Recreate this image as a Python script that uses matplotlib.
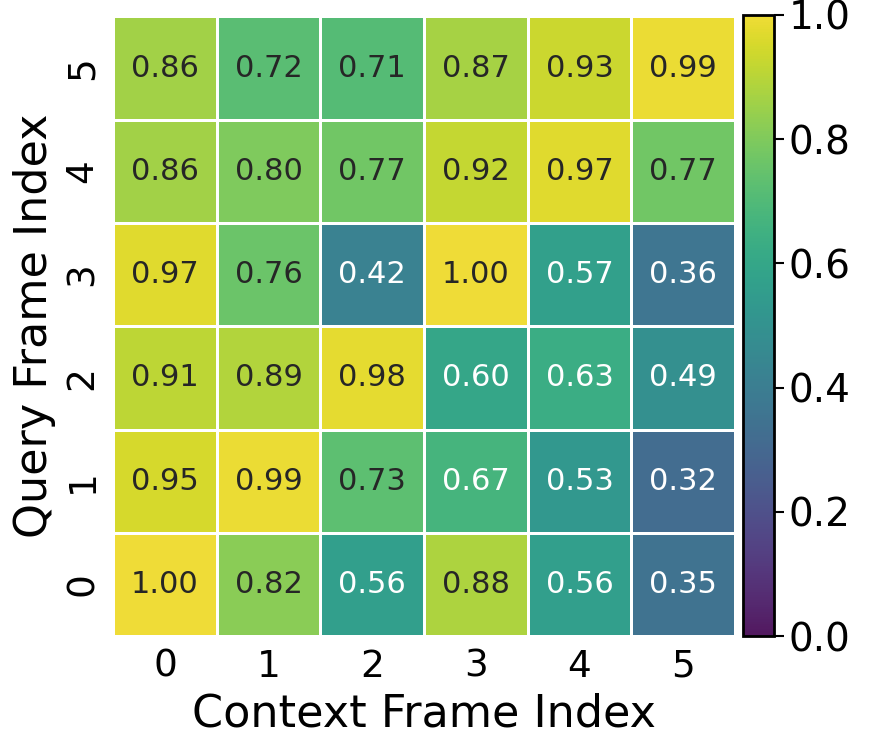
import matplotlib
matplotlib.use("Agg")
import matplotlib.pyplot as plt
from matplotlib.colors import ListedColormap
import numpy as np
import seaborn as sns

context_labels = ["0", "1", "2", "3", "4", "5"]
query_labels = ["0", "1", "2", "3", "4", "5"]
# rows: query frame 0..5 (bottom to top)
q0 = [1.00, 0.82, 0.56, 0.88, 0.56, 0.35]
q1 = [0.95, 0.99, 0.73, 0.67, 0.53, 0.32]
q2 = [0.91, 0.89, 0.98, 0.60, 0.63, 0.49]
q3 = [0.97, 0.76, 0.42, 1.00, 0.57, 0.36]
q4 = [0.86, 0.80, 0.77, 0.92, 0.97, 0.77]
q5 = [0.86, 0.72, 0.71, 0.87, 0.93, 0.99]

data = np.array([q0, q1, q2, q3, q4, q5])

# slightly muted viridis
base = plt.get_cmap("viridis")(np.linspace(0, 1, 256))
muted = base.copy()
muted[:, :3] = 0.85 * base[:, :3] + 0.15 * 0.62
cmap = ListedColormap(muted)

fig = plt.figure(figsize=(8.77, 7.44), dpi=100)
ax = fig.add_axes([0.129, 0.145, 0.709, 0.833])
cax = fig.add_axes([0.847, 0.145, 0.036, 0.835])

sns.heatmap(data, ax=ax, cbar_ax=cax, cmap=cmap, vmin=0, vmax=1,
            annot=True, fmt=".2f", annot_kws={"size": 22},
            linewidths=2, linecolor="white",
            xticklabels=context_labels, yticklabels=query_labels)
ax.invert_yaxis()

# text colour by value
flat = data.flatten()
for t, v in zip(ax.texts, flat):
    t.set_color("#262626" if v >= 0.70 else "white")

ax.set_xlabel("Context Frame Index", fontsize=32, labelpad=6)
ax.set_ylabel("Query Frame Index", fontsize=32, labelpad=6)
ax.tick_params(axis="both", labelsize=27, length=0, pad=9)
ax.set_yticklabels(query_labels, rotation=90, va="center", fontsize=27)
ax.set_xticklabels(context_labels, rotation=0, fontsize=27)

cb = ax.collections[0].colorbar
cb.set_ticks([0.0, 0.2, 0.4, 0.6, 0.8, 1.0])
cb.ax.tick_params(labelsize=28, length=7, width=1.5, pad=3)
cb.outline.set_visible(True)
cb.outline.set_edgecolor("black")
cb.outline.set_linewidth(2)

fig.savefig("out.png", dpi=100)
